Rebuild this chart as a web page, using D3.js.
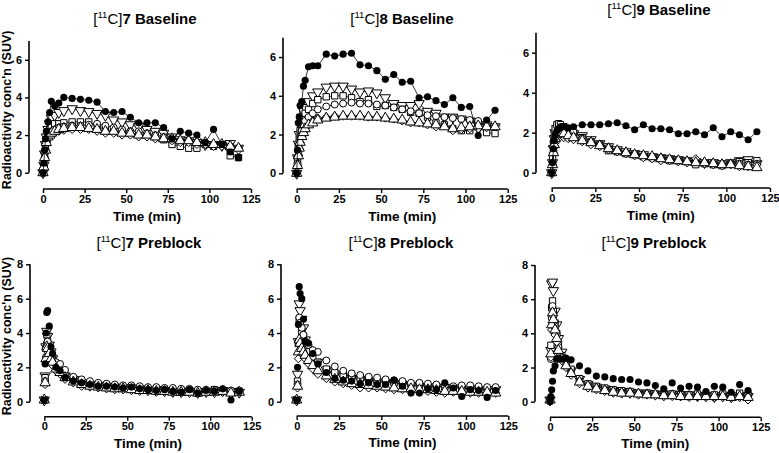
<!DOCTYPE html>
<html><head><meta charset="utf-8">
<script src="https://cdn.jsdelivr.net/npm/d3@7"></script>
<style>
body{margin:0;background:#fff;}
svg{display:block;font-family:"Liberation Sans",Arial,sans-serif;}
</style></head>
<body><svg id="c" width="779" height="453"></svg>
<script>
// ---------- data ----------
const times = [0,0.5,1,1.5,2,3,4,5,7,9.5,12.5,17.5,22.5,27.5,32.5,37.5,42.5,47.5,52.5,57.5,62.5,67.5,72.5,77.5,82.5,87.5,92.5,97.5,102.5,107.5,112.5,117.5];
const seriesShapes = ["triDown","square","circle","diamond","triUp","filled"];
const xTicks = [0,25,50,75,100,125];
const yTicksBaseline = [0,2,4,6];
const yTicksPreblock = [0,2,4,6,8];
const panelTracers = ["7","8","9","7","8","9"];
const panelConditions = ["Baseline","Baseline","Baseline","Preblock","Preblock","Preblock"];
const yLabel = "Radioactivity conc'n (SUV)";
const xLabel = "Time (min)";

// 7 Baseline
const b7_filled  = [0,0.5,1.2,1.8,2.2,2.7,3.2,3.8,3.55,3.7,4.0,3.95,3.9,3.85,3.75,3.25,3.2,3.25,2.95,2.65,2.65,2.65,2.4,1.8,2.2,2.1,2.0,1.6,2.3,1.5,1.1,0.8];
const b7_triDown = [0,0.4,1.0,1.5,1.9,2.3,2.6,2.9,3.05,3.2,3.3,3.4,3.3,3.25,3.15,3.05,2.8,2.7,2.55,2.45,2.3,2.2,2.1,1.9,1.75,1.7,1.6,1.5,1.5,1.45,1.55,1.3];
const b7_square  = [0,0.3,0.8,1.3,1.7,2.1,2.3,2.45,2.6,2.6,2.65,2.7,2.7,2.7,2.45,2.3,2.2,2.2,2.1,2.05,2.0,1.9,1.75,1.5,1.4,1.3,1.3,1.5,1.4,1.5,0.9,0.8];
const b7_circle  = [0,0.3,0.8,1.2,1.6,1.9,2.1,2.2,2.3,2.4,2.45,2.5,2.5,2.55,2.6,2.5,2.4,2.3,2.2,2.2,2.1,2.0,1.9,1.8,1.7,1.7,1.6,1.6,1.5,1.5,1.4,1.3];
const b7_diamond = [0,0.3,0.7,1.1,1.5,1.8,1.9,2.0,2.1,2.2,2.25,2.3,2.3,2.3,2.2,2.1,2.1,2.0,2.0,1.9,1.9,1.8,1.8,1.7,1.6,1.6,1.5,1.5,1.4,1.4,1.3,1.2];
const b7_triUp   = [0,0.3,0.8,1.2,1.6,1.9,2.0,2.1,2.2,2.3,2.35,2.4,2.4,2.35,2.3,2.2,2.2,2.1,2.1,2.0,2.0,1.9,1.8,1.8,1.7,1.7,1.6,1.6,1.5,1.5,1.4,1.3];
// 8 Baseline
const b8_filled  = [0,1.2,2.6,2.9,3.5,3.7,4.5,4.8,5.5,5.55,5.55,6.15,6.05,6.15,6.2,5.6,5.55,5.3,4.85,5.1,4.7,4.75,3.9,3.95,3.75,3.55,3.9,3.4,3.45,1.95,2.75,3.25];
const b8_triDown = [0,0.8,1.5,2.0,2.5,2.9,3.2,3.4,3.7,4.0,4.2,4.45,4.5,4.5,4.35,4.2,4.25,4.15,3.9,3.6,3.5,3.5,3.6,3.2,3.1,2.9,2.9,2.8,2.7,2.5,2.5,2.4];
const b8_square  = [0,0.6,1.3,1.8,2.2,2.6,2.9,3.1,3.3,3.6,3.8,3.95,4.0,4.0,3.9,3.7,3.8,3.45,3.5,3.4,3.3,3.15,3.1,2.9,2.6,2.5,2.3,2.2,2.2,2.5,2.1,2.05];
const b8_circle  = [0,0.5,1.1,1.5,1.9,2.2,2.5,2.7,2.9,3.1,3.3,3.45,3.55,3.6,3.65,3.6,3.6,3.55,3.5,3.4,3.3,3.2,3.1,3.0,2.95,2.9,2.85,2.8,2.75,2.7,2.5,2.4];
const b8_diamond = [0,0.4,0.9,1.3,1.6,1.9,2.1,2.3,2.5,2.7,2.85,2.9,2.95,2.95,2.95,2.95,2.9,2.9,2.85,2.8,2.7,2.6,2.6,2.5,2.4,2.45,2.2,2.25,2.3,2.3,2.35,2.4];
const b8_triUp   = [0,0.4,0.9,1.3,1.6,1.9,2.1,2.3,2.5,2.6,2.75,2.85,2.9,2.95,2.95,2.95,2.9,2.9,2.85,2.8,2.75,2.65,2.6,2.55,2.5,2.4,2.3,2.35,2.4,2.45,2.4,2.4];
// 9 Baseline
const b9_filled  = [0,0.5,1.2,1.6,1.9,2.1,2.2,2.3,2.3,2.25,2.3,2.4,2.4,2.4,2.45,2.5,2.35,2.15,2.4,2.2,2.2,2.15,1.95,1.95,2.05,1.9,2.25,1.8,2.05,1.9,1.65,2.05];
const b9_triDown = [0,0.5,1.2,1.7,2.0,2.2,2.3,2.3,2.2,2.1,1.95,1.85,1.65,1.45,1.3,1.15,1.05,0.95,0.9,0.8,0.75,0.7,0.65,0.6,0.55,0.5,0.5,0.45,0.5,0.6,0.65,0.45];
const b9_square  = [0,0.7,1.5,1.9,2.2,2.4,2.45,2.4,2.3,2.2,2.0,1.75,1.55,1.4,1.1,1.05,0.95,0.9,0.8,0.75,0.7,0.6,0.6,0.55,0.4,0.45,0.4,0.35,0.45,0.55,0.5,0.6];
const b9_circle  = [0,0.5,1.1,1.5,1.8,2.0,2.1,2.1,2.0,1.9,1.8,1.7,1.55,1.4,1.25,1.1,1.0,0.95,0.85,0.8,0.75,0.7,0.65,0.6,0.55,0.5,0.5,0.45,0.45,0.45,0.4,0.45];
const b9_diamond = [0,0.4,1.0,1.3,1.5,1.7,1.8,1.8,1.75,1.7,1.65,1.55,1.4,1.3,1.15,1.05,0.95,0.85,0.75,0.7,0.6,0.6,0.55,0.5,0.7,0.45,0.4,0.35,0.4,0.3,0.3,0.4];
const b9_triUp   = [0,0.4,1.0,1.4,1.7,1.9,2.0,2.0,1.95,1.85,1.75,1.6,1.5,1.35,1.2,1.1,1.0,0.9,0.85,0.8,0.7,0.65,0.6,0.55,0.5,0.5,0.45,0.4,0.4,0.35,0.3,0.25];
// 7 Preblock
const p7_filled  = [0.1,2.2,4.0,5.2,5.3,4.4,3.2,2.8,2.0,1.8,1.4,1.2,1.1,1.0,0.9,0.9,0.85,0.8,0.85,0.75,0.7,0.65,0.7,0.6,0.55,0.7,0.5,0.65,0.6,0.75,0.1,0.6];
const p7_triDown = [0.1,1.5,3.2,4.1,3.8,3.3,2.9,2.5,2.1,1.8,1.5,1.3,1.1,1.0,0.95,0.9,0.85,0.8,0.8,0.75,0.7,0.7,0.65,0.6,0.6,0.6,0.55,0.6,0.6,0.65,0.6,0.55];
const p7_square  = [0.1,1.4,3.1,3.9,3.5,3.0,2.7,2.4,2.0,1.8,1.5,1.25,1.1,1.0,0.95,0.9,0.85,0.8,0.8,0.75,0.7,0.65,0.65,0.6,0.55,0.55,0.5,0.6,0.7,0.6,0.55,0.6];
const p7_circle  = [0.1,1.2,2.6,3.4,3.5,3.2,2.9,2.7,2.3,2.2,1.85,1.45,1.3,1.2,1.1,1.05,1.0,0.95,0.95,0.9,0.85,0.85,0.8,0.8,0.75,0.75,0.7,0.7,0.7,0.7,0.65,0.65];
const p7_diamond = [0.1,1.0,2.4,3.0,2.9,2.6,2.3,2.1,1.8,1.6,1.3,1.1,0.9,0.85,0.8,0.75,0.7,0.7,0.65,0.6,0.6,0.55,0.55,0.5,0.5,0.5,0.45,0.5,0.5,0.55,0.45,0.5];
const p7_triUp   = [0.1,1.1,2.5,3.2,3.1,2.8,2.5,2.3,1.9,1.7,1.4,1.15,1.0,0.9,0.85,0.8,0.75,0.75,0.7,0.65,0.65,0.6,0.6,0.55,0.55,0.55,0.5,0.55,0.55,0.6,0.5,0.55];
// 8 Preblock
const p8_filled  = [0.1,2.0,4.5,6.7,6.3,6.0,4.8,3.5,3.4,2.8,2.2,1.7,1.35,1.25,1.2,1.05,1.1,1.0,1.0,1.25,0.9,0.5,0.5,0.75,0.7,1.1,0.8,0.3,0.7,0.65,0.25,0.65];
const p8_triDown = [0.1,1.6,3.5,5.7,5.3,4.8,4.3,3.6,3.0,2.7,2.3,1.85,1.6,1.45,1.35,1.3,1.2,1.15,1.1,1.05,1.0,0.95,0.9,0.85,0.85,0.8,0.8,0.75,0.75,0.7,0.7,0.7];
const p8_square  = [0.1,1.2,3.4,4.8,4.5,4.1,3.8,3.2,2.9,2.6,2.3,1.9,1.7,1.55,1.45,1.35,1.3,1.2,1.15,1.1,1.05,1.0,0.95,0.9,0.85,0.85,0.8,0.75,0.7,0.7,0.65,0.6];
const p8_circle  = [0.1,1.0,3.5,4.9,4.6,4.3,3.9,3.5,3.3,3.0,2.9,2.4,2.05,1.8,1.65,1.55,1.45,1.4,1.3,1.25,1.2,1.1,1.1,1.05,1.0,0.95,0.9,0.95,0.95,0.9,0.85,0.85];
const p8_diamond = [0.1,0.8,2.5,3.3,3.0,2.9,2.7,2.5,2.2,1.9,1.6,1.35,1.15,1.05,0.95,0.8,0.8,0.8,0.75,0.7,0.7,0.65,0.6,0.6,0.55,0.5,0.55,0.55,0.5,0.5,0.45,0.5];
const p8_triUp   = [0.1,0.9,2.9,3.6,3.4,3.1,2.9,2.7,2.4,2.1,1.8,1.5,1.3,1.15,1.05,1.0,0.95,0.9,0.85,0.8,0.75,0.75,0.7,0.7,0.65,0.6,0.6,0.6,0.55,0.55,0.55,0.5];
// 9 Preblock
const p9_filled  = [0,0.3,0.7,1.2,1.8,2.1,2.5,2.55,2.5,2.55,2.45,2.1,1.8,1.5,1.45,1.35,1.3,1.3,1.15,1.1,0.95,0.75,1.1,0.8,0.9,0.85,0.6,0.9,0.85,0.55,1.0,0.65];
const p9_triDown = [0.1,3.0,6.9,7.0,6.5,5.3,4.5,3.7,2.9,2.3,1.8,1.3,1.0,0.85,0.75,0.65,0.6,0.55,0.5,0.5,0.45,0.4,0.45,0.4,0.4,0.35,0.35,0.3,0.35,0.3,0.35,0.3];
const p9_square  = [0.1,3.3,5.5,5.9,5.3,4.6,4.0,3.3,2.7,2.2,1.9,1.35,1.05,0.9,0.8,0.7,0.65,0.6,0.5,0.5,0.45,0.45,0.45,0.4,0.4,0.45,0.4,0.4,0.45,0.35,0.5,0.4];
const p9_circle  = [0.1,2.5,4.9,5.6,5.0,4.4,3.9,3.2,2.6,2.2,1.7,1.2,0.95,0.8,0.7,0.6,0.55,0.5,0.45,0.45,0.4,0.35,0.35,0.3,0.3,0.3,0.3,0.25,0.3,0.25,0.3,0.25];
const p9_diamond = [0.1,2.6,4.2,4.6,4.4,3.9,3.5,2.9,2.4,2.0,1.55,1.05,0.8,0.7,0.6,0.5,0.45,0.45,0.4,0.4,0.35,0.3,0.3,0.3,0.25,0.3,0.25,0.25,0.25,0.2,0.25,0.1];
const p9_triUp   = [0.1,2.8,4.5,5.2,4.8,4.2,3.7,3.0,2.5,2.1,1.65,1.15,0.9,0.75,0.65,0.55,0.5,0.5,0.45,0.4,0.4,0.35,0.35,0.3,0.3,0.3,0.3,0.3,0.3,0.25,0.3,0.25];

const panelSeries = [
  [b7_triDown,b7_square,b7_circle,b7_diamond,b7_triUp,b7_filled],
  [b8_triDown,b8_square,b8_circle,b8_diamond,b8_triUp,b8_filled],
  [b9_triDown,b9_square,b9_circle,b9_diamond,b9_triUp,b9_filled],
  [p7_triDown,p7_square,p7_circle,p7_diamond,p7_triUp,p7_filled],
  [p8_triDown,p8_square,p8_circle,p8_diamond,p8_triUp,p8_filled],
  [p9_triDown,p9_square,p9_circle,p9_diamond,p9_triUp,p9_filled]
];

// ---------- layout (pixels) ----------
const layout = [
  {ax:29,  x0:43,    x1:251,   y0:172.7, y1:41,    yMax:7, xAxisY:189,   titleY:24, titleX:145, yLab:true},
  {ax:283, x0:296.7, x1:507.7, y0:173.3, y1:37.7,  yMax:7, xAxisY:189,   titleY:24, titleX:402, yLab:false},
  {ax:536, x0:551.7, x1:770,   y0:172.7, y1:32.7,  yMax:7, xAxisY:188,   titleY:15, titleX:659, yLab:false},
  {ax:30,  x0:44.3,  x1:251.7, y0:401.7, y1:264.3, yMax:8, xAxisY:416.7, titleY:248, titleX:149, yLab:true},
  {ax:281, x0:296.7, x1:508.3, y0:401.7, y1:264.3, yMax:8, xAxisY:416,   titleY:248, titleX:401, yLab:false},
  {ax:535, x0:550,   x1:760.7, y0:401.7, y1:265,   yMax:8, xAxisY:417.3, titleY:248, titleX:654, yLab:false}
];

const svg = d3.select("#c");
const symType = {triDown:d3.symbolTriangle, triUp:d3.symbolTriangle, square:d3.symbolSquare, circle:d3.symbolCircle, diamond:d3.symbolDiamond2, filled:d3.symbolCircle};
const symSize = {triDown:46, triUp:46, square:40, circle:38, diamond:42, filled:40};

layout.forEach((L,i)=>{
  const baseline = panelConditions[i]==="Baseline";
  const x = d3.scaleLinear().domain([0,125]).range([L.x0,L.x1]);
  const y = d3.scaleLinear().domain([0,L.yMax]).range([L.y0,L.y1]);
  const g = svg.append("g");

  const xa = g.append("g").attr("transform",`translate(0,${L.xAxisY})`)
    .call(d3.axisBottom(x).tickValues(xTicks).tickSize(4).tickPadding(2).tickFormat(d3.format("d")));
  const ya = g.append("g").attr("transform",`translate(${L.ax},0)`)
    .call(d3.axisLeft(y).tickValues(baseline?yTicksBaseline:yTicksPreblock).tickSize(4).tickPadding(3).tickFormat(d3.format("d")));
  [xa,ya].forEach(a=>{
    a.select(".domain").attr("stroke","#000").attr("stroke-width",1.6);
    a.selectAll(".tick line").attr("stroke","#000").attr("stroke-width",1.4);
    a.selectAll(".tick text").attr("fill","#000").attr("font-size",11).attr("font-weight","bold").attr("font-family","Liberation Sans, Arial, sans-serif");
  });
  xa.select(".domain").attr("d",`M${L.x0},0H${L.x1}`);
  ya.select(".domain").attr("d",`M0,${L.y0}V${y(L.yMax)}`);

  // title
  const t = g.append("text").attr("x",L.titleX).attr("y",L.titleY).attr("text-anchor","middle")
    .attr("font-size",15).attr("fill","#000");
  t.append("tspan").text("[");
  t.append("tspan").attr("font-size",9.5).attr("dy",-6).text("11");
  t.append("tspan").attr("dy",6).text("C]");
  t.append("tspan").attr("font-weight","bold").text(panelTracers[i]+" "+panelConditions[i]);

  // x label
  g.append("text").attr("x",(L.x0+L.x1)/2).attr("y",L.xAxisY+(i<3?32:31)).attr("text-anchor","middle")
    .attr("font-size",13.5).attr("font-weight","bold").text(xLabel);
  if (L.yLab){
    g.append("text").attr("transform",`translate(11,${(L.y0+y(L.yMax))/2+3}) rotate(-90)`)
      .attr("text-anchor","middle").attr("font-size",12.5).attr("font-weight","bold").text(yLabel);
  }

  // series
  const line = d3.line().x((d,k)=>x(times[k])).y(d=>y(d));
  panelSeries[i].forEach((vals,s)=>{
    const shape = seriesShapes[s];
    if (baseline){
      g.append("path").attr("d",line(vals)).attr("fill","none").attr("stroke","#000").attr("stroke-width",0.8);
    }
    const sym = d3.symbol().type(symType[shape]).size(symSize[shape]);
    g.append("g").selectAll("path").data(vals).join("path")
      .attr("transform",(d,k)=>`translate(${x(times[k])},${y(d)})${shape==="triDown"?" rotate(180)":""}`)
      .attr("d",sym())
      .attr("fill",shape==="filled"?"#000":"#fff")
      .attr("stroke","#000").attr("stroke-width",shape==="filled"?0:1);
  });
});
</script></body></html>
